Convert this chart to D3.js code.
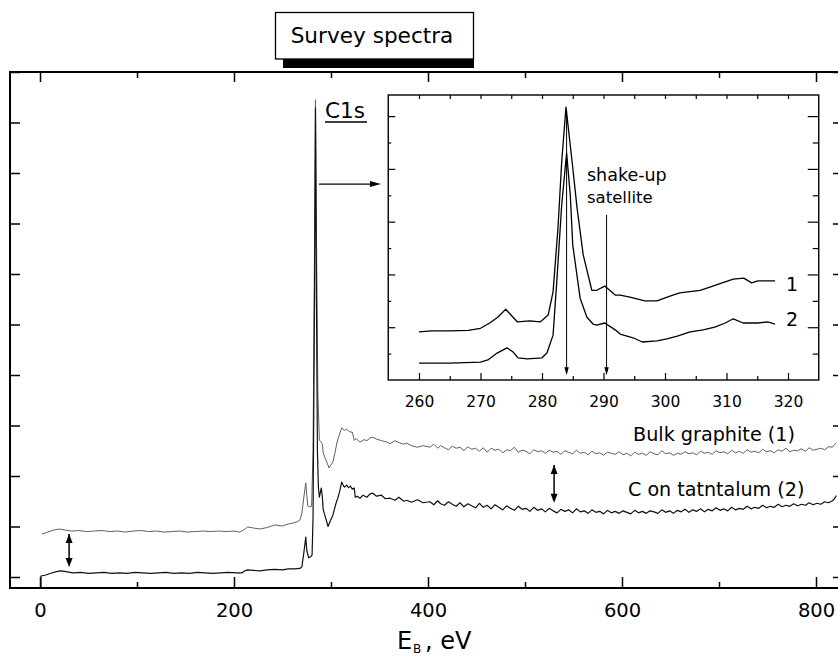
<!DOCTYPE html>
<html><head><meta charset="utf-8">
<script src="https://cdn.jsdelivr.net/npm/d3@7"></script>
<style>
body{margin:0;background:#fff}
svg{display:block}
text{font-family:"DejaVu Sans",sans-serif;fill:#000}
</style>
</head><body>
<svg id="c" width="838" height="658"></svg>
<script>
// ---------------- data ----------------
const mainXMajor = [0, 200, 400, 600, 800];
const mainXMinor = [100, 300, 500, 700];
const mainYTicks = [0, 1, 2, 3, 4, 5, 6, 7, 8, 9, 10];
const insetXMajor = [260, 270, 280, 290, 300, 310, 320];
const insetXMinor = [265, 275, 285, 295, 305, 315];
const insetYMajor = [1, 2, 3, 4, 5];
const insetYMinor = [0.5, 1.5, 2.5, 3.5, 4.5];

// survey spectrum 1: bulk graphite  [E_B (eV), intensity (a.u.)]
const graphite = [
[2,0.85],[8,0.89],[14,0.93],[20,0.95],[26,0.93],[32,0.91],[40,0.92],[48,0.90],[56,0.91],[64,0.92],
[72,0.90],[80,0.91],[88,0.89],[96,0.91],[104,0.92],[112,0.90],[120,0.91],[128,0.89],[136,0.90],[144,0.91],
[152,0.89],[160,0.90],[168,0.91],[176,0.90],[184,0.91],[192,0.90],[200,0.91],[206,0.89],[210,0.93],[214,0.99],
[220,0.97],[227,0.95],[234,0.98],[242,1.03],[250,1.01],[256,1.05],[261,1.07],[265,1.09],[268,1.13],[270,1.27],
[272,1.58],[274,1.86],[276,1.41],[278,1.39],[280,1.40],[281.5,2.5],[283,6.5],[284,9.45],[285,6.8],[286.5,3.6],
[288,2.71],[290,2.67],[291,2.63],[292,2.46],[294,2.35],[296,2.26],[298,2.16],[300,2.22],[302,2.28],[304,2.45],
[306,2.65],[308,2.78],[311,2.95],[314,2.90],[316,2.93],[318,2.89],[320,2.87],[322,2.87],[324,2.71],[326,2.74],
[330,2.67],[334,2.72],[337,2.70],[340,2.75],[343,2.77],[347,2.73],[352,2.70],[358,2.67],[361,2.64],[366,2.70],
[370,2.66],[375,2.63],[378,2.65],[383,2.60],[389,2.57],[395,2.60],
[402,2.57],[406,2.63],[410,2.55],[413,2.60],[417,2.56],[421,2.52],[425,2.59],[429,2.55],[433,2.57],[437,2.50],
[441,2.58],[445,2.53],[449,2.55],[453,2.49],[457,2.56],[461,2.47],[465,2.55],[469,2.51],[473,2.53],[477,2.46],
[481,2.52],[485,2.50],[489,2.57],[493,2.47],[497,2.51],[501,2.49],[505,2.44],[509,2.52],[513,2.48],[517,2.50],
[521,2.45],[525,2.51],[529,2.47],[533,2.49],[537,2.43],[541,2.50],[545,2.47],[549,2.44],[553,2.51],[557,2.45],
[561,2.47],[565,2.42],[569,2.49],[573,2.44],[577,2.46],[581,2.41],[585,2.47],[589,2.45],[593,2.43],[597,2.48],
[601,2.42],[605,2.45],[609,2.40],[613,2.47],[617,2.43],[621,2.45],[625,2.41],[629,2.48],[633,2.44],[637,2.42],
[641,2.50],[645,2.44],[649,2.46],[653,2.41],[657,2.45],[661,2.43],[665,2.48],[669,2.44],[673,2.46],[677,2.42],
[681,2.49],[685,2.45],[689,2.47],[693,2.43],[697,2.50],[701,2.46],[705,2.48],[709,2.44],[713,2.51],[717,2.46],
[721,2.49],[725,2.45],[729,2.52],[733,2.47],[737,2.49],[741,2.46],[745,2.53],[749,2.48],[753,2.50],[757,2.46],
[761,2.52],[765,2.49],[769,2.55],[773,2.48],[777,2.51],[781,2.50],[785,2.54],[789,2.49],[793,2.56],[797,2.51],
[801,2.53],[805,2.55],[809,2.52],[813,2.58],[817,2.57],[819,2.62],[821,2.66]
];

// survey spectrum 2: C on tantalum
const tantalum = [
[1,-0.20],[1,0.02],[6,0.04],[12,0.08],[18,0.11],[22,0.12],[28,0.10],[34,0.08],[42,0.09],[50,0.07],
[58,0.08],[66,0.09],[74,0.07],[82,0.08],[90,0.07],[98,0.09],[106,0.08],[114,0.07],[122,0.08],[130,0.09],
[138,0.07],[146,0.08],[154,0.07],[162,0.09],[170,0.08],[178,0.07],[186,0.08],[194,0.09],[202,0.08],[208,0.08],
[211,0.12],[214,0.14],[220,0.13],[227,0.12],[234,0.14],[242,0.15],[250,0.14],[256,0.16],[262,0.16],[268,0.17],
[270,0.20],[272,0.48],[274,0.79],[275,0.53],[277,0.38],[279,0.40],[280.5,0.44],[281.5,1.2],[283,5.5],[284,9.29],
[285,5.5],[286,2.5],[287,1.78],[288,1.58],[290,1.76],[291,1.60],[292,1.33],[294,1.20],[297,1.00],[299,1.10],
[302,1.23],[305,1.45],[307,1.56],[309,1.70],[311,1.88],[313,1.80],[314,1.78],[316,1.82],[318,1.77],[320,1.80],
[322,1.74],[324,1.76],[325,1.58],[327,1.60],[330,1.56],[333,1.62],[337,1.58],[340,1.64],[343,1.66],[347,1.60],
[352,1.62],[356,1.55],[361,1.56],[366,1.52],[370,1.58],[375,1.50],[378,1.52],[383,1.48],[389,1.53],[395,1.47],
[402,1.49],[406,1.43],[410,1.51],[413,1.45],[417,1.42],[421,1.49],[425,1.44],[429,1.40],[433,1.47],[437,1.39],
[441,1.45],[445,1.41],[449,1.37],[453,1.46],[457,1.38],[461,1.42],[465,1.35],[469,1.43],[473,1.38],[477,1.33],
[481,1.41],[485,1.36],[489,1.32],[493,1.40],[497,1.34],[501,1.36],[505,1.30],[509,1.38],[513,1.32],[517,1.35],
[521,1.29],[525,1.36],[529,1.31],[533,1.27],[537,1.34],[541,1.30],[545,1.33],[549,1.27],[553,1.35],[557,1.29],
[561,1.31],[565,1.26],[569,1.33],[573,1.28],[577,1.30],[581,1.25],[585,1.32],[589,1.27],[593,1.30],[597,1.26],
[601,1.31],[605,1.28],[609,1.25],[613,1.32],[617,1.27],[621,1.30],[625,1.26],[629,1.31],[633,1.29],[637,1.26],
[641,1.33],[645,1.28],[649,1.31],[653,1.26],[657,1.32],[661,1.29],[665,1.34],[669,1.28],[673,1.33],[677,1.30],
[681,1.35],[685,1.29],[689,1.34],[693,1.31],[697,1.37],[701,1.32],[705,1.35],[709,1.31],[713,1.38],[717,1.33],
[721,1.36],[725,1.34],[729,1.40],[733,1.35],[737,1.38],[741,1.36],[745,1.42],[749,1.37],[753,1.40],[757,1.38],
[761,1.44],[765,1.39],[769,1.42],[773,1.40],[777,1.45],[781,1.41],[785,1.44],[789,1.42],[793,1.47],[797,1.43],
[801,1.46],[805,1.44],[809,1.49],[813,1.47],[817,1.51],[819,1.55],[821,1.61]
];

// inset (C1s region), curve 1 and 2
const insetGraphite = [
[260,0.91],[262,0.93],[265,0.93],[268,0.94],[270,0.98],[271.5,1.08],[272.8,1.19],[274.1,1.34],[276,1.10],[278,1.12],
[279.7,1.10],[281,1.23],[281.8,1.67],[282.6,2.88],[283.2,4.13],[283.9,5.17],[284.9,4.13],[285.7,3.26],[286.7,2.37],[288.1,1.70],
[288.9,1.70],[290.2,1.78],[291.9,1.61],[292.7,1.61],[294.3,1.57],[296.7,1.50],[298.7,1.50],[300.8,1.59],[302.4,1.65],[305.7,1.70],
[307.3,1.76],[309.3,1.84],[311.1,1.91],[312.8,1.93],[314.1,1.84],[315.1,1.88],[317.9,1.88]
];
const insetTantalum = [
[260,0.32],[265,0.32],[270,0.34],[271.2,0.38],[272.7,0.51],[274.3,0.61],[275.3,0.53],[276.1,0.42],[277.6,0.40],[280,0.42],
[280.8,0.51],[281.8,0.85],[282.4,1.86],[283.2,3.31],[284.0,4.30],[284.6,3.50],[285.0,2.56],[286.2,1.55],[287.3,1.19],[288.3,1.06],
[288.9,1.04],[290.2,1.08],[291.9,0.95],[292.7,0.87],[294.8,0.80],[296.3,0.72],[298.7,0.74],[300.3,0.78],[302,0.83],[304.1,0.91],
[306.2,0.95],[308.1,1.00],[309.8,1.08],[311.1,1.16],[312.7,1.08],[315,1.08],[316.7,1.10],[317.9,1.06]
];

// ---------------- drawing ----------------
const svg = d3.select("#c");
const W = 838, H = 658;
svg.append("rect").attr("width", W).attr("height", H).attr("fill", "#fff");

const frame = {left: 10, right: 839, top: 72, bottom: 588};
const x = d3.scaleLinear().domain([0, 800]).range([40, 816]);
const y = d3.scaleLinear().domain([0, 10]).range([577, 72]);

const ink = "#000";

function styleAxis(g) {
  g.select(".domain").remove();
  g.selectAll(".tick line").attr("stroke", ink).attr("stroke-width", 1.5);
  g.selectAll(".tick text").attr("fill", ink).style("font-family", '"DejaVu Sans",sans-serif');
}

// main bottom axis
svg.append("g").attr("transform", `translate(0,${frame.bottom})`)
  .call(d3.axisBottom(x).tickValues(mainXMajor).tickSizeInner(-11).tickSizeOuter(0).tickPadding(15).tickFormat(d3.format("d")))
  .call(styleAxis).call(g => g.selectAll(".tick text").style("font-size", "19.5px"));
svg.append("g").attr("transform", `translate(0,${frame.bottom})`)
  .call(d3.axisBottom(x).tickValues(mainXMinor).tickSizeInner(-6).tickSizeOuter(0).tickFormat(""))
  .call(styleAxis);
// main top axis
svg.append("g").attr("transform", `translate(0,${frame.top})`)
  .call(d3.axisTop(x).tickValues(mainXMajor).tickSizeInner(-10).tickSizeOuter(0).tickFormat(""))
  .call(styleAxis);
svg.append("g").attr("transform", `translate(0,${frame.top})`)
  .call(d3.axisTop(x).tickValues(mainXMinor).tickSizeInner(-6).tickSizeOuter(0).tickFormat(""))
  .call(styleAxis);
// main left / right
svg.append("g").attr("transform", `translate(${frame.left},0)`)
  .call(d3.axisLeft(y).tickValues(mainYTicks).tickSizeInner(-10).tickSizeOuter(0).tickFormat(""))
  .call(styleAxis);
svg.append("g").attr("transform", `translate(${frame.right},0)`)
  .call(d3.axisRight(y).tickValues(mainYTicks).tickSizeInner(-6).tickSizeOuter(0).tickFormat(""))
  .call(styleAxis);

svg.append("rect")
  .attr("x", frame.left).attr("y", frame.top)
  .attr("width", frame.right - frame.left).attr("height", frame.bottom - frame.top)
  .attr("fill", "none").attr("stroke", ink).attr("stroke-width", 2);

const line = d3.line().x(d => x(d[0])).y(d => y(d[1]));
svg.append("path").datum(graphite).attr("d", line)
  .attr("fill", "none").attr("stroke", "#606060").attr("stroke-width", 1).attr("stroke-linejoin", "round");
svg.append("path").datum(tantalum).attr("d", line)
  .attr("fill", "none").attr("stroke", "#111").attr("stroke-width", 1.2).attr("stroke-linejoin", "round");

// arrow helper
function arrowHead(tx, ty, dx, dy, len, hw) {
  const px = -dy, py = dx;
  const bx = tx - dx * len, by = ty - dy * len;
  return `M${tx},${ty}L${bx + px * hw},${by + py * hw}L${bx - px * hw},${by - py * hw}Z`;
}
function arrow(x1, y1, x2, y2, len, hw, sw, both) {
  const L = Math.hypot(x2 - x1, y2 - y1), dx = (x2 - x1) / L, dy = (y2 - y1) / L;
  svg.append("line").attr("x1", x1).attr("y1", y1).attr("x2", x2 - dx * len * 0.6).attr("y2", y2 - dy * len * 0.6)
    .attr("stroke", ink).attr("stroke-width", sw);
  svg.append("path").attr("d", arrowHead(x2, y2, dx, dy, len, hw)).attr("fill", ink);
  if (both) svg.append("path").attr("d", arrowHead(x1, y1, -dx, -dy, len, hw)).attr("fill", ink);
}

// double arrows marking the offset between spectra
arrow(x(30), y(0.85), x(30), y(0.20), 9, 3.5, 1.5, true);
arrow(x(530), y(2.22), x(530), y(1.47), 9, 3.5, 1.5, true);
// arrow to inset
arrow(x(287.6), y(7.78), x(351.5), y(7.78), 11, 3, 1.2, false);

// labels on main plot
svg.append("text").attr("x", 325).attr("y", 118).style("font-size", "21.5px").text("C1s");
svg.append("line").attr("x1", 325).attr("x2", 367).attr("y1", 122).attr("y2", 122).attr("stroke", ink).attr("stroke-width", 1.3);
svg.append("text").attr("x", 633).attr("y", 441).style("font-size", "19.2px").text("Bulk graphite (1)");
svg.append("text").attr("x", 628).attr("y", 496).style("font-size", "19.1px").text("C on tatntalum (2)");

// axis title
const xt = svg.append("text").attr("y", 649).style("font-size", "24px");
xt.append("tspan").attr("x", 397).text("E");
xt.append("tspan").attr("x", 413).attr("dy", 4).style("font-size", "12px").text("B");
xt.append("tspan").attr("x", 425).attr("dy", -4).text(", eV");

// title box
svg.append("rect").attr("x", 283).attr("y", 59).attr("width", 191).attr("height", 9).attr("fill", ink);
svg.append("rect").attr("x", 275.5).attr("y", 12.5).attr("width", 198).attr("height", 46.5)
  .attr("fill", "#fff").attr("stroke", ink).attr("stroke-width", 1.3);
svg.append("text").attr("x", 372).attr("y", 43).attr("text-anchor", "middle").style("font-size", "21.6px").text("Survey spectra");

// ---------------- inset ----------------
const inset = {left: 388.25, right: 818.75, top: 95, bottom: 380};
const xi = d3.scaleLinear().domain([255, 325]).range([inset.left, inset.right]);
const yi = d3.scaleLinear().domain([0, 5.4]).range([inset.bottom, inset.top]);

svg.append("rect").attr("x", inset.left).attr("y", inset.top)
  .attr("width", inset.right - inset.left).attr("height", inset.bottom - inset.top)
  .attr("fill", "#fff").attr("stroke", ink).attr("stroke-width", 1.4);

function styleAxisThin(g) {
  g.select(".domain").remove();
  g.selectAll(".tick line").attr("stroke", ink).attr("stroke-width", 1.2);
  g.selectAll(".tick text").attr("fill", ink).style("font-family", '"DejaVu Sans",sans-serif');
}
svg.append("g").attr("transform", `translate(0,${inset.bottom})`)
  .call(d3.axisBottom(xi).tickValues(insetXMajor).tickSizeInner(-7).tickSizeOuter(0).tickPadding(16).tickFormat(d3.format("d")))
  .call(styleAxisThin).call(g => g.selectAll(".tick text").style("font-size", "15.5px"));
svg.append("g").attr("transform", `translate(0,${inset.bottom})`)
  .call(d3.axisBottom(xi).tickValues(insetXMinor).tickSizeInner(-4).tickSizeOuter(0).tickFormat(""))
  .call(styleAxisThin);
svg.append("g").attr("transform", `translate(0,${inset.top})`)
  .call(d3.axisTop(xi).tickValues(insetXMajor.concat(insetXMinor)).tickSizeInner(-4).tickSizeOuter(0).tickFormat(""))
  .call(styleAxisThin);
svg.append("g").attr("transform", `translate(${inset.left},0)`)
  .call(d3.axisLeft(yi).tickValues(insetYMajor).tickSizeInner(-7).tickSizeOuter(0).tickFormat(""))
  .call(styleAxisThin);
svg.append("g").attr("transform", `translate(${inset.left},0)`)
  .call(d3.axisLeft(yi).tickValues(insetYMinor).tickSizeInner(-3).tickSizeOuter(0).tickFormat(""))
  .call(styleAxisThin);
svg.append("g").attr("transform", `translate(${inset.right},0)`)
  .call(d3.axisRight(yi).tickValues(insetYMajor).tickSizeInner(-11).tickSizeOuter(0).tickFormat(""))
  .call(styleAxisThin);
svg.append("g").attr("transform", `translate(${inset.right},0)`)
  .call(d3.axisRight(yi).tickValues(insetYMinor).tickSizeInner(-6).tickSizeOuter(0).tickFormat(""))
  .call(styleAxisThin);

const lineI = d3.line().x(d => xi(d[0])).y(d => yi(d[1]));
svg.append("path").datum(insetGraphite).attr("d", lineI)
  .attr("fill", "none").attr("stroke", ink).attr("stroke-width", 1.3).attr("stroke-linejoin", "round");
svg.append("path").datum(insetTantalum).attr("d", lineI)
  .attr("fill", "none").attr("stroke", ink).attr("stroke-width", 1.3).attr("stroke-linejoin", "round");

// inset arrows (C1s main line and shake-up satellite)
arrow(xi(284), yi(5.1), xi(284), yi(0.09), 8, 2.2, 1, false);
arrow(xi(290.5), yi(3.13), xi(290.5), yi(0.09), 8, 2.2, 1, false);

svg.append("text").attr("x", 587).attr("y", 181).style("font-size", "17.5px").text("shake-up");
svg.append("text").attr("x", 587).attr("y", 203).style("font-size", "16.5px").text("satellite");
svg.append("text").attr("x", 786).attr("y", 291).style("font-size", "19px").text("1");
svg.append("text").attr("x", 786).attr("y", 326).style("font-size", "19px").text("2");
</script>
</body></html>
